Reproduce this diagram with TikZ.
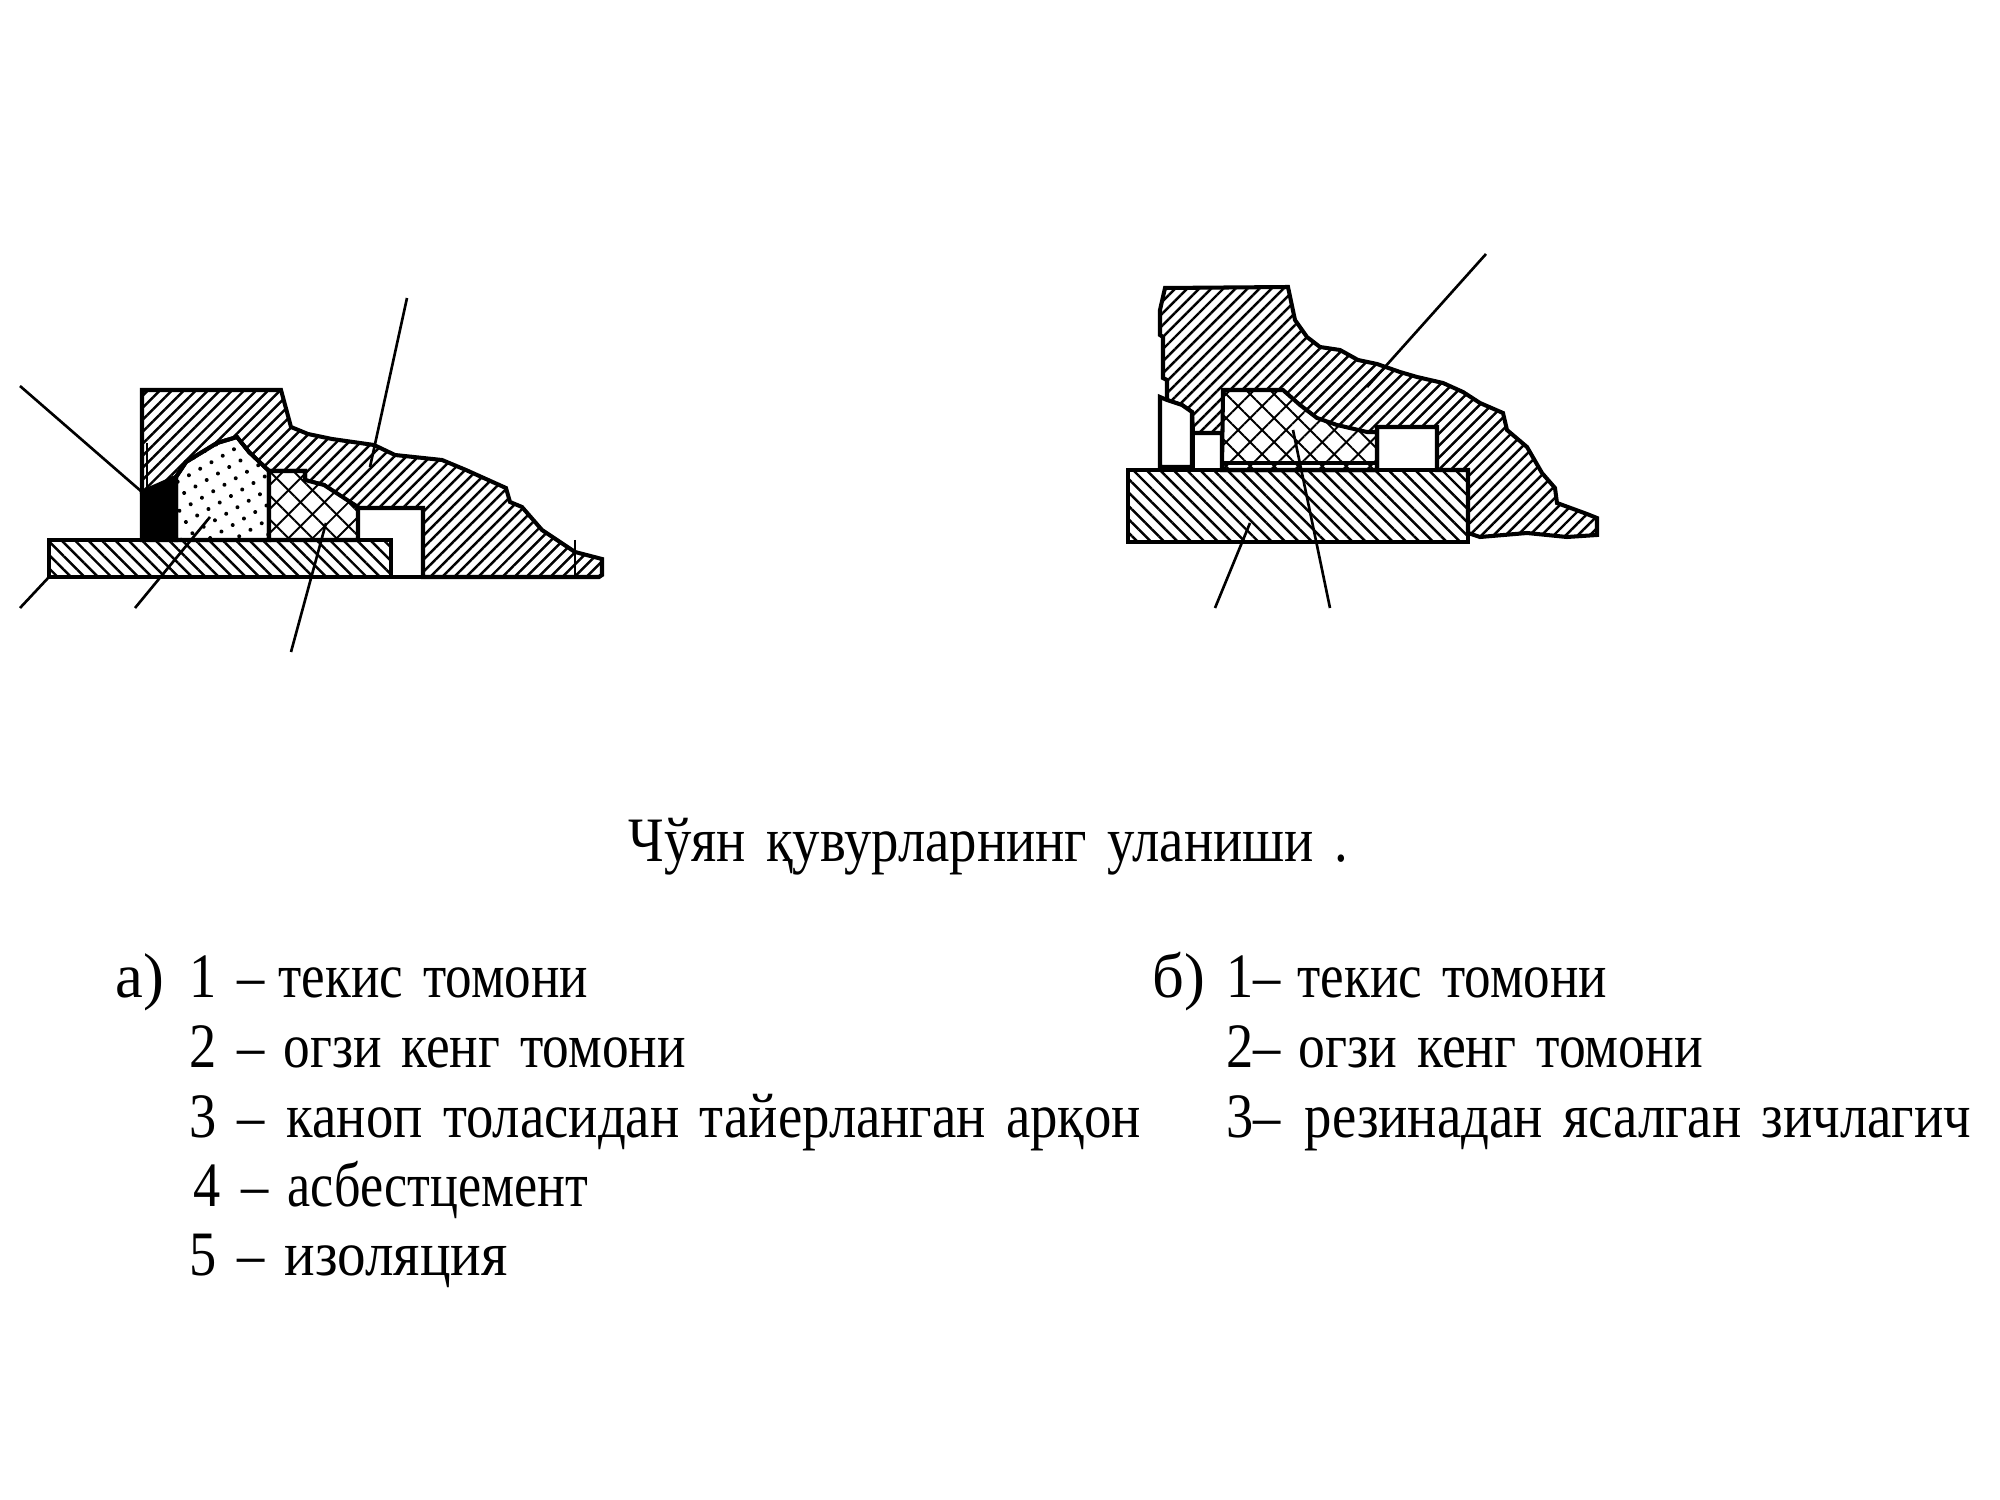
\documentclass[tikz,border=0pt]{standalone}
\usepackage{graphicx}
\usepackage{fontspec}
\setmainfont[FakeStretch=0.86]{Liberation Serif}
\usetikzlibrary{patterns.meta}
\newcommand{\txtw}[2]{\scalebox{#1}[1]{\spaceskip=0.32em\relax #2}}
\tikzset{
  line cap=round,
  line join=round,
  part/.style={draw, line width=1.15pt},
  leader/.style={line width=0.75pt},
  castiron/.style={part, pattern={Lines[angle=45,distance=0.85mm,line width=0.7pt]}},
  pipewall/.style={part, pattern={Lines[angle=-45,distance=0.95mm,line width=0.7pt]}},
  hemp/.style={part, preaction={fill=white}, pattern={Lines[angle=45,distance=1.7mm,line width=0.55pt]}, postaction={pattern={Lines[angle=-45,distance=1.7mm,line width=0.55pt]}}},
  cement/.style={part, pattern={Dots[radius=0.2mm,distance=1.3mm,angle=30]}},
  txt/.style={anchor=base west, inner sep=0pt, font=\fontsize{18}{20}\selectfont},
}
\begin{document}
\begin{tikzpicture}[x=0.1mm,y=-0.1mm]
  \useasboundingbox (0,0) rectangle (2000,1500);

  % joint a
  \draw[castiron] (142,390) -- (281,390) -- (291,427) -- (308,434) -- (332,439) -- (374,445)
    -- (395,455) -- (442,460) -- (466,470) -- (506,488) -- (510,502) -- (522,507) -- (542,530)
    -- (575,552) -- (602,559) -- (602,575) -- (599,577) -- (423,577) -- (423,508) -- (358,508)
    -- (324,485) -- (305,480) -- (305,471) -- (269,471) -- (249,452) -- (237,437) -- (217,443)
    -- (186,462) -- (176,477) -- (146,492) -- (142,492) -- cycle;
  \draw[part, fill=black] (142,492) -- (176,477) -- (176,540) -- (142,540) -- cycle;
  \draw[cement] (176,477) -- (186,462) -- (217,443) -- (237,437) -- (249,452) -- (269,471)
    -- (269,540) -- (176,540) -- cycle;
  \draw[hemp] (269,471) -- (305,471) -- (305,480) -- (324,485) -- (358,507) -- (358,540)
    -- (269,540) -- cycle;
  \draw[pipewall] (49,540) rectangle (391,577);
  \draw[part] (391,577) -- (423,577);
  \draw[leader] (147,443) -- (147,492);
  \draw[leader] (575,540) -- (575,575);

  \coordinate (aflange) at (370,467);
  \coordinate (aflangeend) at (407,298);
  \coordinate (ablack) at (142,492);
  \coordinate (ablackend) at (20,386);
  \coordinate (apipe) at (49,577);
  \coordinate (apipeend) at (20,608);
  \coordinate (acement) at (210,517);
  \coordinate (acementend) at (135,608);
  \coordinate (ahemp) at (326,523);
  \coordinate (ahempend) at (291,652);
  \draw[leader] (aflange) -- (aflangeend);
  \draw[leader] (ablack) -- (ablackend);
  \draw[leader] (apipe) -- (apipeend);
  \draw[leader] (acement) -- (acementend);
  \draw[leader] (ahemp) -- (ahempend);

  % joint b
  \draw[castiron] (1165,288) -- (1288,287) -- (1295,320) -- (1307,337) -- (1320,347) -- (1340,350)
    -- (1358,360) -- (1377,364) -- (1400,372) -- (1417,377) -- (1443,383) -- (1463,392)
    -- (1480,403) -- (1503,413) -- (1507,430) -- (1527,447) -- (1542,473) -- (1555,488)
    -- (1557,503) -- (1587,514) -- (1597,518) -- (1597,535) -- (1567,537) -- (1527,533)
    -- (1480,537) -- (1468,533) -- (1468,470) -- (1437,470) -- (1437,427) -- (1377,427)
    -- (1377,470) -- (1222,470) -- (1222,433) -- (1193,433) -- (1192,412) -- (1182,405)
    -- (1167,400) -- (1167,380) -- (1163,378) -- (1163,337) -- (1160,335) -- (1160,310) -- cycle;
  \draw[hemp] (1223,390) -- (1283,390) -- (1300,405) -- (1317,418) -- (1337,425) -- (1367,432)
    -- (1377,432) -- (1377,470) -- (1222,470) -- cycle;
  \draw[part] (1222,463) -- (1377,463);
  \draw[part, fill=white] (1160,397) -- (1167,400) -- (1182,405) -- (1192,412) -- (1192,467)
    -- (1160,467) -- cycle;
  \draw[part] (1193,433) rectangle (1222,470);
  \draw[pipewall] (1128,470) rectangle (1468,542);

  \coordinate (bflange) at (1367,387);
  \coordinate (bflangeend) at (1486,254);
  \coordinate (bpipe) at (1250,523);
  \coordinate (bpipeend) at (1215,608);
  \coordinate (bseal) at (1293,430);
  \coordinate (bsealend) at (1330,608);
  \draw[leader] (bflange) -- (bflangeend);
  \draw[leader] (bpipe) -- (bpipeend);
  \draw[leader] (bseal) -- (bsealend);

  % caption
  \node[txt] (title) at (628,862) {\txtw{1.005}{Чўян қувурларнинг уланиши .}};

  \node[txt] (amark) at (115,998) {\txtw{1.15}{а)}};
  \node[txt] (aone) at (189,998) {1\,\,–};
  \node[txt] (aonetext) at (278,998) {\txtw{0.976}{текис томони}};
  \node[txt] (atwo) at (189,1067) {2\,\,–};
  \node[txt] (atwotext) at (283,1067) {\txtw{0.98}{огзи кенг томони}};
  \node[txt] (athree) at (189,1137) {3\,\,–};
  \node[txt] (athreetext) at (286,1137) {\txtw{1.006}{каноп толасидан тайерланган арқон}};
  \node[txt] (afour) at (193,1206) {4\,\,–};
  \node[txt] (afourtext) at (287,1206) {\txtw{0.958}{асбестцемент}};
  \node[txt] (afive) at (189,1275) {5\,\,–};
  \node[txt] (afivetext) at (284,1275) {\txtw{1.05}{изоляция}};

  \node[txt] (bmark) at (1152,998) {\txtw{1.15}{б)}};
  \node[txt] (bone) at (1226,998) {1–};
  \node[txt] (bonetext) at (1297,998) {\txtw{0.976}{текис томони}};
  \node[txt] (btwo) at (1226,1067) {2–};
  \node[txt] (btwotext) at (1298,1067) {\txtw{0.985}{огзи кенг томони}};
  \node[txt] (bthree) at (1226,1137) {3–};
  \node[txt] (bthreetext) at (1304,1137) {\txtw{1.006}{резинадан ясалган зичлагич}};
\end{tikzpicture}
\end{document}
